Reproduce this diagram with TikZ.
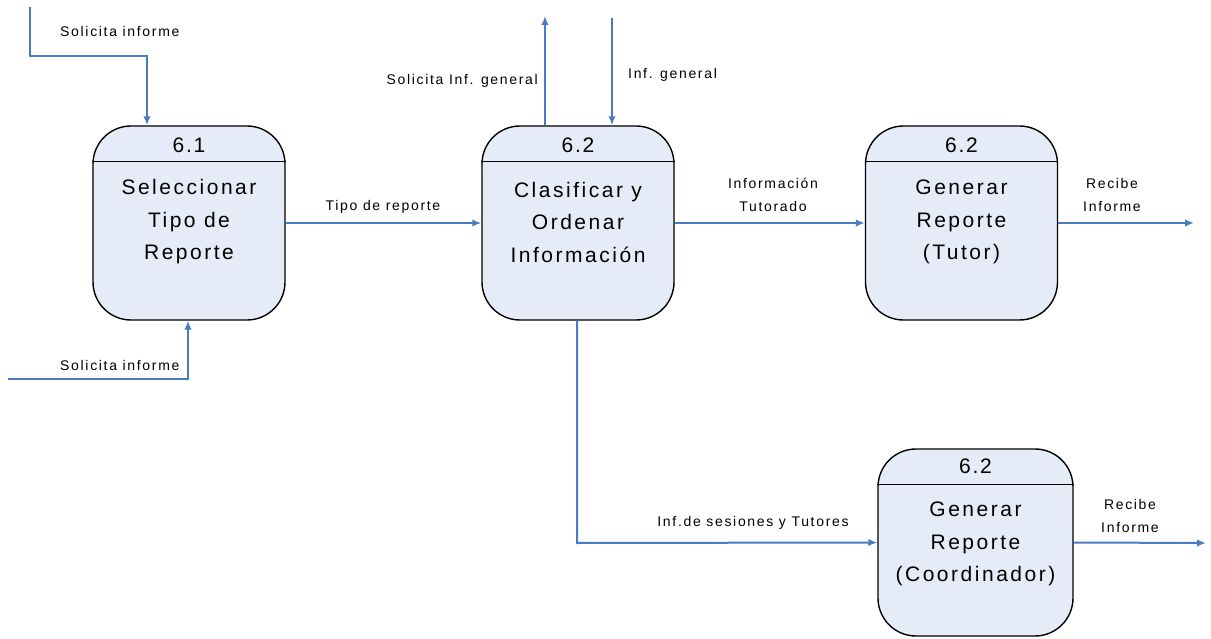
\documentclass[tikz,border=0pt]{standalone}
\usepackage{fontspec}
\setmainfont{Liberation Sans}
\usetikzlibrary{arrows.meta,calc}
\definecolor{boxfill}{RGB}{230,236,247}
\definecolor{flowblue}{RGB}{74,124,196}
\begin{document}
\begin{tikzpicture}[x=1pt,y=-1pt,
  procbox/.style={draw=black,line width=1.4pt,fill=boxfill,rounded corners=38pt,
    minimum width=192pt,minimum height=194pt,inner sep=0pt},
  procnum/.style={font=\fontsize{21}{24}\selectfont\addfontfeatures{LetterSpace=8},inner sep=0pt},
  proctext/.style={font=\fontsize{21}{32.5}\selectfont\addfontfeatures{LetterSpace=12},align=center,inner sep=0pt},
  flow/.style={draw=flowblue,line width=2pt,-{Latex[length=9pt,width=7.5pt]}},
  lbl/.style={font=\fontsize{14}{23}\selectfont\addfontfeatures{LetterSpace=12},inner sep=0pt,align=center}]
\useasboundingbox (0,0) rectangle (1211,639);
\fill[white] (0,0) rectangle (1211,639);

% processes
\node[procbox] (p1) at (189,223) {};
\node[procbox] (p2) at (578,223) {};
\node[procbox] (p3) at (961.5,223) {};
\node[procbox,minimum width=195pt,minimum height=187pt] (p4) at (975.5,542.5) {};

% header dividers
\foreach \b in {p1,p2,p3,p4}{
  \draw[line width=1.4pt] ($(\b.north west)+(0,36)$) -- ($(\b.north east)+(0,36)$);
}

% numbers and names
\node[procnum] (n1) at (189,145) {6.1};
\node[procnum] (n2) at (578,145) {6.2};
\node[procnum] (n3) at (961.5,145) {6.2};
\node[procnum] (n4) at (975.5,466) {6.2};
\node[proctext] (t1) at (189,222) {Seleccionar\\Tipo de\\Reporte};
\node[proctext] (t2) at (578,222) {Clasificar y\\Ordenar\\Información};
\node[proctext] (t3) at (961.5,222) {Generar\\Reporte\\(Tutor)};
\node[proctext] (t4) at (975.5,544) {Generar\\Reporte\\(Coordinador)};

% free ends of the flows
\coordinate (s1) at (30,7);
\coordinate (k1) at (147,56);
\coordinate (s2) at (8,379);
\coordinate (k2) at (188,379);
\coordinate (u1) at (545,16);
\coordinate (u2) at (612,18);
\coordinate (o1) at (1194,223);
\coordinate (k3) at (577,543);
\coordinate (o2) at (1206,543);

% flows
\draw[flow] (s1) |- (k1) -- (k1 |- p1.north);
\draw[flow] (s2) -- (k2) -- (k2 |- p1.south);
\draw[flow] (p1.east) -- (p2.west);
\draw[flow] (u1 |- p2.north) -- (u1);
\draw[flow] (u2) -- (u2 |- p2.north);
\draw[flow] (p2.east) -- (p3.west);
\draw[flow] (p3.east) -- (o1);
\draw[flow] (k3 |- p2.south) -- (k3) -- (p4.west);
\draw[flow] (p4.east) -- (o2);

% flow labels
\node[lbl,anchor=west] (l1) at (60,31) {Solicita informe};
\node[lbl,anchor=west] (l2) at (60,365) {Solicita informe};
\node[lbl] (l3) at (383,207) {Tipo de reporte};
\node[lbl,anchor=east] (l4) at (538,81) {Solicita Inf. general};
\node[lbl,anchor=west] (l5) at (628,75) {Inf. general};
\node[lbl] (l6) at (773,195) {Información\\Tutorado};
\node[lbl] (l7) at (1112,195) {Recibe\\Informe};
\node[lbl] (l8) at (753,523) {Inf.de sesiones y Tutores};
\node[lbl] (l9) at (1130,516) {Recibe\\Informe};
\end{tikzpicture}
\end{document}
